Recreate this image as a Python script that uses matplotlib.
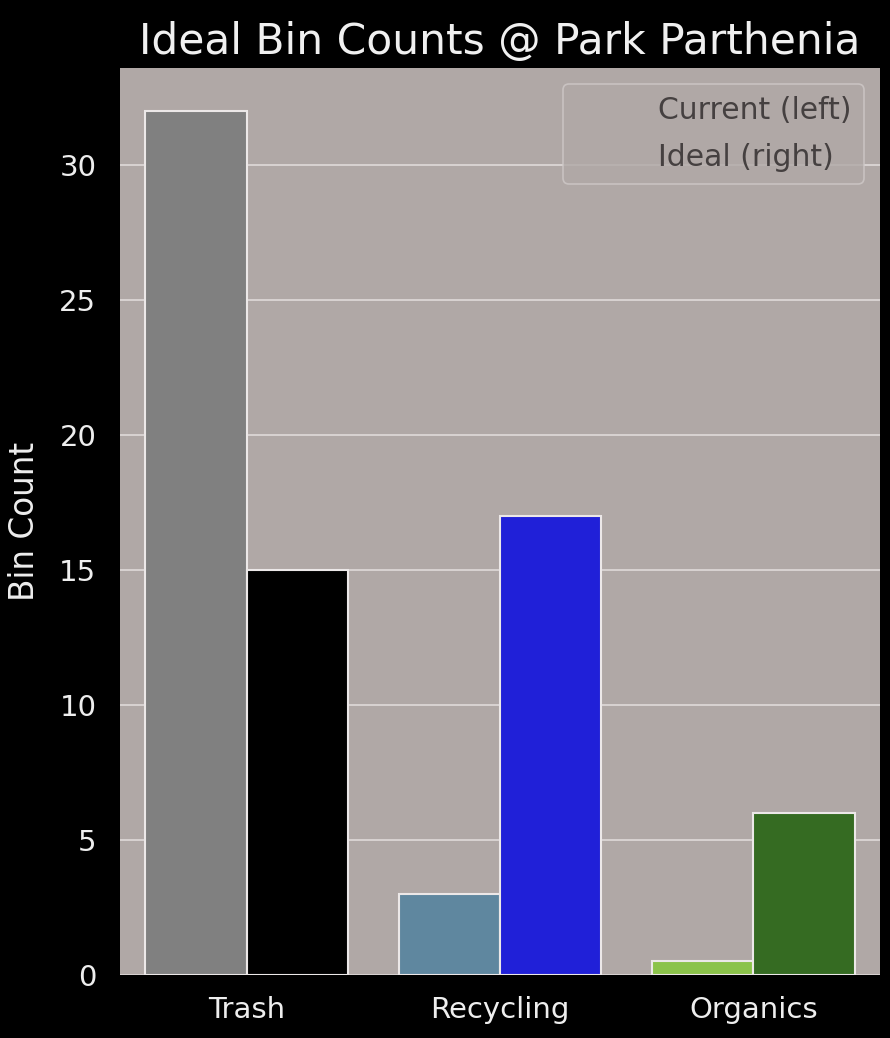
import numpy as np
from matplotlib import pyplot as plt
from matplotlib.patches import Patch

# Data
categories = ["Trash", "Recycling", "Organics"]
current_counts = [32, 3, 0.5]
ideal_counts = [15, 17, 6]
current_colors = ["#808080", "#5f879f", "#8bc34a"]
ideal_colors = ["#000000", "#2020d8", "#356b22"]
yticks = [0, 5, 10, 15, 20, 25, 30]

# Figure with black background
fig = plt.figure(figsize=(8.9, 10.38), dpi=100, facecolor="black")
ax = fig.add_axes([0.1348, 0.0607, 0.8540, 0.8738])
ax.set_facecolor("#b0a8a6")

x = np.arange(len(categories))
width = 0.4

# Current on the left, ideal on the right
ax.bar(x - width / 2, current_counts, width, color=current_colors,
       edgecolor="#ece8e8", linewidth=1.5, zorder=3)
ax.bar(x + width / 2, ideal_counts, width, color=ideal_colors,
       edgecolor="#ece8e8", linewidth=1.5, zorder=3)

ax.set_xlim(-0.5, len(categories) - 0.5)
ax.set_ylim(0, 33.6)
ax.set_xticks(x)
ax.set_xticklabels(categories)
ax.set_yticks(yticks)

# Horizontal grid only
ax.yaxis.grid(True, color="#dcd6d5", linewidth=1.3, zorder=0)
ax.xaxis.grid(False)

# Remove spines and tick marks
for side in ["top", "right", "left", "bottom"]:
    ax.spines[side].set_visible(False)
ax.tick_params(axis="both", length=0, colors="#eeeeee", labelsize=21)
ax.tick_params(axis="y", pad=17)
ax.tick_params(axis="x", pad=15)

ax.set_ylabel("Bin Count", color="#eeeeee", fontsize=23.5, labelpad=13)
ax.set_title("Ideal Bin Counts @ Park Parthenia", color="#f0f0f0",
             fontsize=30.5, pad=10)

# Legend with blank handles
handles = [Patch(facecolor="none", edgecolor="none"),
           Patch(facecolor="none", edgecolor="none")]
leg = ax.legend(handles, ["Current (left)", "Ideal (right)"], loc="upper right",
                fontsize=21.5, frameon=True, facecolor="#b0a8a6",
                edgecolor="#cfc9c8", labelcolor="#454040", borderaxespad=0.55,
                labelspacing=0.6)
leg.get_frame().set_linewidth(1.2)

plt.savefig("out.png", dpi=100, facecolor="black")
